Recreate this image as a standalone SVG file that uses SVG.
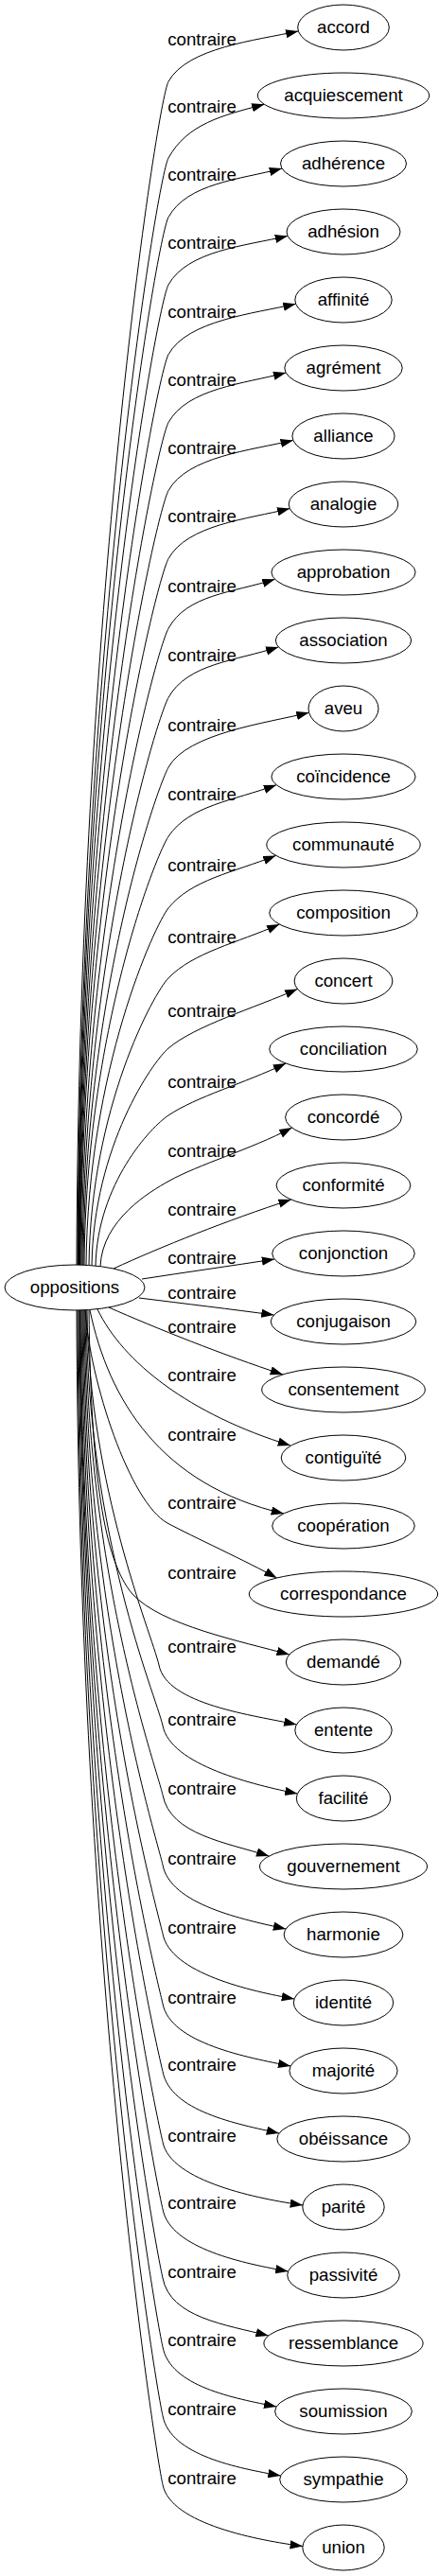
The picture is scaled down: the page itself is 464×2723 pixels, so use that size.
<svg xmlns="http://www.w3.org/2000/svg" width="464" height="2723" viewBox="0 0 464 2723">
<style>
text{font-family:"Liberation Sans",Arial,sans-serif;font-size:18.67px;text-anchor:middle;fill:#000}
.n ellipse{fill:#fff;stroke:#000;stroke-width:1}
.e path{fill:none;stroke:#000;stroke-width:1;marker-end:url(#ah)}
</style>
<defs><marker id="ah" markerUnits="userSpaceOnUse" markerWidth="14" markerHeight="10" refX="13.3" refY="4.67" orient="auto"><path d="M0,0 L13.3,4.67 L0,9.33 z" fill="#000"/></marker></defs>
<rect width="464" height="2723" fill="#fff"/>
<g id="edges" class="e">
<path d="M81,1337 C83,649.1 166,107.8 178,86.2 C198,50.2 270.3,42.8 315.3,32.9"/>
<path d="M82,1337 C84,693.5 166,188.6 178,167 C198,131 234.4,122.1 279.4,110.3"/>
<path d="M82.5,1337 C84.5,727.9 166,251.2 178,229.6 C198,193.6 253,189.8 298,178.1"/>
<path d="M83,1337 C85,767.2 166,322.6 178,301 C198,265 259,259.9 304,249.4"/>
<path d="M83.5,1337 C85.5,807.7 166,396.3 178,374.7 C198,338.7 267.6,331.6 312.6,321.2"/>
<path d="M84,1337 C86,847.3 166,468.2 178,446.6 C198,410.6 257.2,405.7 302.2,394"/>
<path d="M84.5,1337 C86.5,886.9 166,540.2 178,518.6 C198,482.6 264.8,476.1 309.8,465.4"/>
<path d="M85,1337 C87,926.5 166,612.2 178,590.6 C198,554.6 261.3,548.8 306.3,537.6"/>
<path d="M86,1337 C88,967 166,685.9 178,664.3 C198,628.3 245.5,626.7 290.5,612.3"/>
<path d="M87,1337 C89,1007.2 166,759 178,737.4 C198,701.4 249.3,698.6 294.3,683.9"/>
<path d="M88,1337 C90,1047.8 166,832.7 178,811.1 C198,775.1 281.6,764.3 326.6,753.3"/>
<path d="M89,1337 C91,1088 164.8,904 178,884.2 C200,851.2 247.1,846.3 292.1,829.7"/>
<path d="M91,1337.3 C93,1129.7 163.6,977.9 178,959.9 C202,929.9 246.5,922.3 291.5,904.4"/>
<path d="M94,1337.5 C96,1170.5 162.4,1050.1 178,1033.9 C204,1006.9 250.4,996.7 295.4,977.1"/>
<path d="M97,1337.7 C99,1211.4 161.2,1122.5 178,1108.1 C206,1084.1 269.4,1065.5 314.4,1045.4"/>
<path d="M101,1338.1 C103,1250.6 160,1191 178,1179 C208,1159 257.1,1145.6 302.1,1124.1"/>
<path d="M106,1338.7 C108,1289.2 158.8,1259.5 178,1248.7 C210,1230.7 263.6,1215.6 308.6,1192.1"/>
<path d="M120,1341 C170,1318 240,1290 307.7,1268"/>
<path d="M150,1352 C195,1345 245,1338 290.1,1331"/>
<path d="M147,1372 C195,1378 245,1384 289.5,1390"/>
<path d="M115,1382 C165,1404 235,1432 299,1453"/>
<path d="M103,1384 C130,1440 200,1495 307,1528"/>
<path d="M95,1385 C115,1480 170,1570 300,1600"/>
<path d="M90,1385 C95,1460 137,1588 177,1610 C203,1624 262,1651 292.6,1668"/>
<path d="M94,1384.5 C96,1560 110,1650 140,1685 C170,1718 255,1735 305.8,1749"/>
<path d="M92,1385 C94,1572 160,1726 168,1760 C176,1802 268.4,1813.1 313.4,1823"/>
<path d="M91,1385 C93,1626.5 164,1790 172,1824 C180,1866 269.4,1887 314.4,1896"/>
<path d="M90,1385 C92,1666.8 164,1863.4 172,1897.4 C180,1939.4 239.3,1947.6 284.3,1962"/>
<path d="M89,1385 C91,1707.5 164,1937.3 172,1971.3 C180,2013.3 257.1,2029.1 302.1,2039"/>
<path d="M88,1385 C90,1747.5 164,2010.1 172,2044.1 C180,2086.1 266,2104.9 311,2113"/>
<path d="M87,1385 C89,1788.2 164,2084 172,2118 C180,2160 262.2,2175 307.2,2184"/>
<path d="M86,1385 C88,1827.6 164,2155.7 172,2189.7 C180,2231.7 250,2245.1 295,2255"/>
<path d="M85,1385 C87,1868.6 164,2230.2 172,2264.2 C180,2306.2 275,2324.7 320,2331"/>
<path d="M84.5,1385 C86.5,1907.6 164,2301.2 172,2335.2 C180,2377.2 259.5,2392.9 304.5,2401"/>
<path d="M84,1385 C86,1947.7 164,2374 172,2408 C180,2450 238.7,2457.3 283.7,2469"/>
<path d="M83,1385 C85,1987.7 164,2446.8 172,2480.8 C180,2522.8 247.2,2535 292.2,2544"/>
<path d="M82,1385 C84,2027.7 164,2519.6 172,2553.6 C180,2595.6 251.6,2608.9 296.6,2617"/>
<path d="M81,1385 C83,2067.8 164,2592.4 172,2626.4 C180,2668.4 274.9,2685.6 319.9,2691.5"/>
</g>
<g id="edge-labels">
<text x="213.5" y="47.7">contraire</text>
<text x="213.5" y="118.5">contraire</text>
<text x="213.5" y="191.1">contraire</text>
<text x="213.5" y="262.5">contraire</text>
<text x="213.5" y="336.2">contraire</text>
<text x="213.5" y="408.1">contraire</text>
<text x="213.5" y="480.1">contraire</text>
<text x="213.5" y="552.1">contraire</text>
<text x="213.5" y="625.8">contraire</text>
<text x="213.5" y="698.9">contraire</text>
<text x="213.5" y="772.6">contraire</text>
<text x="213.5" y="845.7">contraire</text>
<text x="213.5" y="921.4">contraire</text>
<text x="213.5" y="997.4">contraire</text>
<text x="213.5" y="1074.6">contraire</text>
<text x="213.5" y="1149.5">contraire</text>
<text x="213.5" y="1223.2">contraire</text>
<text x="213.5" y="1285.3">contraire</text>
<text x="213.5" y="1336.3">contraire</text>
<text x="213.5" y="1372.9">contraire</text>
<text x="213.5" y="1408.9">contraire</text>
<text x="213.5" y="1460">contraire</text>
<text x="213.5" y="1522.6">contraire</text>
<text x="213.5" y="1594.6">contraire</text>
<text x="213.5" y="1668.9">contraire</text>
<text x="213.5" y="1747.2">contraire</text>
<text x="213.5" y="1823.5">contraire</text>
<text x="213.5" y="1896.9">contraire</text>
<text x="213.5" y="1970.8">contraire</text>
<text x="213.5" y="2043.6">contraire</text>
<text x="213.5" y="2117.5">contraire</text>
<text x="213.5" y="2189.2">contraire</text>
<text x="213.5" y="2263.7">contraire</text>
<text x="213.5" y="2334.7">contraire</text>
<text x="213.5" y="2407.5">contraire</text>
<text x="213.5" y="2480.3">contraire</text>
<text x="213.5" y="2553.1">contraire</text>
<text x="213.5" y="2625.9">contraire</text>
</g>
<g id="oppositions" class="n"><ellipse cx="79" cy="1361" rx="74" ry="24"/><text x="79" y="1367">oppositions</text></g>
<g id="accord" class="n"><ellipse cx="363" cy="29" rx="48.3" ry="24"/><text x="363" y="35">accord</text></g>
<g id="acquiescement" class="n"><ellipse cx="363" cy="101" rx="90.7" ry="24"/><text x="363" y="107">acquiescement</text></g>
<g id="adherence" class="n"><ellipse cx="363" cy="173" rx="66.5" ry="24"/><text x="363" y="179">adhérence</text></g>
<g id="adhesion" class="n"><ellipse cx="363" cy="245" rx="60" ry="24"/><text x="363" y="251">adhésion</text></g>
<g id="affinite" class="n"><ellipse cx="363" cy="317" rx="51.2" ry="24"/><text x="363" y="323">affinité</text></g>
<g id="agrement" class="n"><ellipse cx="363" cy="389" rx="62.2" ry="24"/><text x="363" y="395">agrément</text></g>
<g id="alliance" class="n"><ellipse cx="363" cy="461" rx="54.1" ry="24"/><text x="363" y="467">alliance</text></g>
<g id="analogie" class="n"><ellipse cx="363" cy="533" rx="57.8" ry="24"/><text x="363" y="539">analogie</text></g>
<g id="approbation" class="n"><ellipse cx="363" cy="605" rx="76.1" ry="24"/><text x="363" y="611">approbation</text></g>
<g id="association" class="n"><ellipse cx="363" cy="677" rx="71.7" ry="24"/><text x="363" y="683">association</text></g>
<g id="aveu" class="n"><ellipse cx="363" cy="749" rx="37" ry="24"/><text x="363" y="755">aveu</text></g>
<g id="coincidence" class="n"><ellipse cx="363" cy="821" rx="76.1" ry="24"/><text x="363" y="827">coïncidence</text></g>
<g id="communaute" class="n"><ellipse cx="363" cy="893" rx="81.2" ry="24"/><text x="363" y="899">communauté</text></g>
<g id="composition" class="n"><ellipse cx="363" cy="965" rx="78.3" ry="24"/><text x="363" y="971">composition</text></g>
<g id="concert" class="n"><ellipse cx="363" cy="1037" rx="51.9" ry="24"/><text x="363" y="1043">concert</text></g>
<g id="conciliation" class="n"><ellipse cx="363" cy="1109" rx="78.3" ry="24"/><text x="363" y="1115">conciliation</text></g>
<g id="concorde" class="n"><ellipse cx="363" cy="1181" rx="61.4" ry="24"/><text x="363" y="1187">concordé</text></g>
<g id="conformite" class="n"><ellipse cx="363" cy="1253" rx="70.9" ry="24"/><text x="363" y="1259">conformité</text></g>
<g id="conjonction" class="n"><ellipse cx="363" cy="1325" rx="75.3" ry="24"/><text x="363" y="1331">conjonction</text></g>
<g id="conjugaison" class="n"><ellipse cx="363" cy="1397" rx="76.8" ry="24"/><text x="363" y="1403">conjugaison</text></g>
<g id="consentement" class="n"><ellipse cx="363" cy="1469" rx="86.3" ry="24"/><text x="363" y="1475">consentement</text></g>
<g id="contiguite" class="n"><ellipse cx="363" cy="1541" rx="65.8" ry="24"/><text x="363" y="1547">contiguïté</text></g>
<g id="cooperation" class="n"><ellipse cx="363" cy="1613" rx="75.3" ry="24"/><text x="363" y="1619">coopération</text></g>
<g id="correspondance" class="n"><ellipse cx="363" cy="1685" rx="99.7" ry="24"/><text x="363" y="1691">correspondance</text></g>
<g id="demande" class="n"><ellipse cx="363" cy="1757" rx="60.7" ry="24"/><text x="363" y="1763">demandé</text></g>
<g id="entente" class="n"><ellipse cx="363" cy="1829" rx="51.2" ry="24"/><text x="363" y="1835">entente</text></g>
<g id="facilite" class="n"><ellipse cx="363" cy="1901" rx="49.7" ry="24"/><text x="363" y="1907">facilité</text></g>
<g id="gouvernement" class="n"><ellipse cx="363" cy="1973" rx="88.5" ry="24"/><text x="363" y="1979">gouvernement</text></g>
<g id="harmonie" class="n"><ellipse cx="363" cy="2045" rx="62.9" ry="24"/><text x="363" y="2051">harmonie</text></g>
<g id="identite" class="n"><ellipse cx="363" cy="2117" rx="52.7" ry="24"/><text x="363" y="2123">identité</text></g>
<g id="majorite" class="n"><ellipse cx="363" cy="2189" rx="57.1" ry="24"/><text x="363" y="2195">majorité</text></g>
<g id="obeissance" class="n"><ellipse cx="363" cy="2261" rx="70.2" ry="24"/><text x="363" y="2267">obéissance</text></g>
<g id="parite" class="n"><ellipse cx="363" cy="2333" rx="43.2" ry="24"/><text x="363" y="2339">parité</text></g>
<g id="passivite" class="n"><ellipse cx="363" cy="2405" rx="59.3" ry="24"/><text x="363" y="2411">passivité</text></g>
<g id="ressemblance" class="n"><ellipse cx="363" cy="2477" rx="84.1" ry="24"/><text x="363" y="2483">ressemblance</text></g>
<g id="soumission" class="n"><ellipse cx="363" cy="2549" rx="72.4" ry="24"/><text x="363" y="2555">soumission</text></g>
<g id="sympathie" class="n"><ellipse cx="363" cy="2621" rx="67.3" ry="24"/><text x="363" y="2627">sympathie</text></g>
<g id="union" class="n"><ellipse cx="363" cy="2693" rx="43.2" ry="24"/><text x="363" y="2699">union</text></g>
</svg>
